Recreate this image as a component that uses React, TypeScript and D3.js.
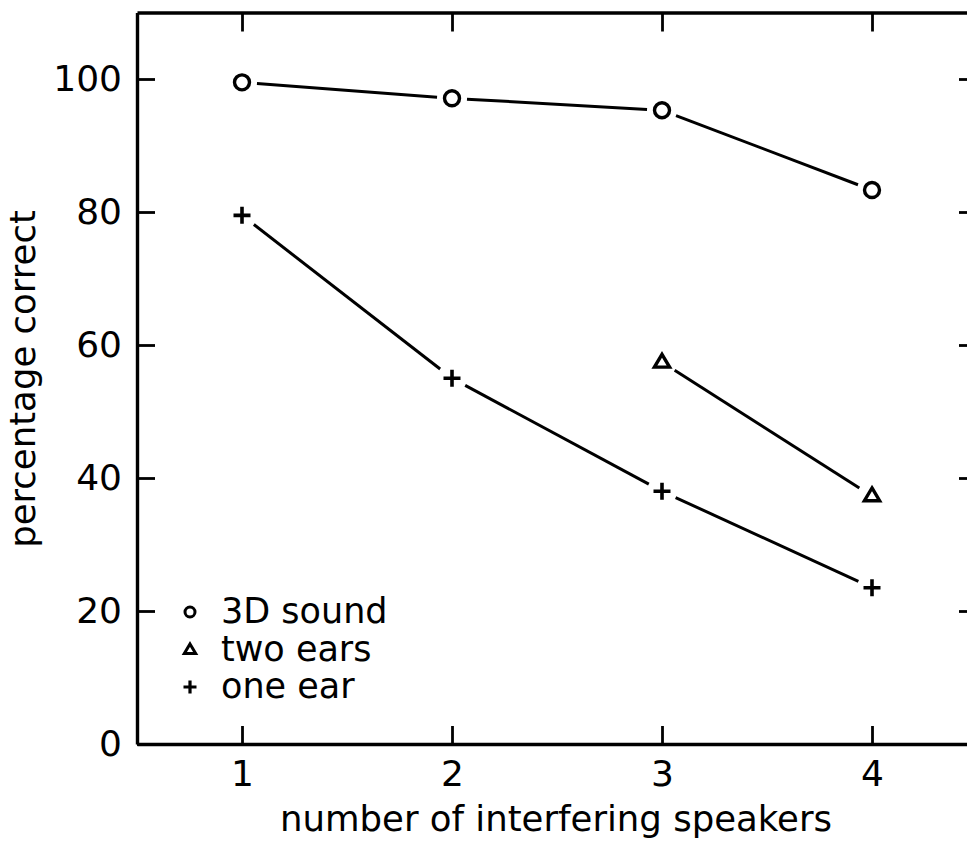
import * as d3 from "d3";
import { useEffect, useRef } from "react";

// speakers on the x axis
const speakers = [1, 2, 3, 4];

// percentage correct
const sound3d = [99.5, 97.1, 95.3, 83.3];
const twoEarsX = [3, 4];
const twoEars = [57.4, 37.3];
const oneEar = [79.5, 55.0, 38.0, 23.5];

const yTicks = [0, 20, 40, 60, 80, 100];
const legendLabels = ["3D sound", "two ears", "one ear"];

const W = 967;
const H = 843;
const FONT = "'DejaVu Sans', sans-serif";

const App = () => {
    const chartRef = useRef<SVGSVGElement>(null);

    useEffect(() => {
        const svg = d3.select(chartRef.current);
        svg.selectAll("*").remove();

        // шкалы
        const x = d3.scaleLinear().domain([0.5, 4.5]).range([137, 977]);
        const y = d3.scaleLinear().domain([0, 110]).range([744, 12.5]);

        const styleAxis = (g: any) => {
            g.select(".domain").attr("stroke", "#000").attr("stroke-width", 3.4);
            g.selectAll(".tick line").attr("stroke", "#000").attr("stroke-width", 2.8);
            g.selectAll(".tick text")
                .attr("fill", "#000")
                .style("font-family", FONT)
                .style("font-size", "36px");
        };

        // оси
        svg.append("g")
            .attr("transform", `translate(${x(0.5)},0)`)
            .call(d3.axisLeft(y).tickValues(yTicks).tickSize(-18).tickSizeOuter(0).tickPadding(15))
            .call(styleAxis);

        svg.append("g")
            .attr("transform", `translate(${x(4.5)},0)`)
            .call(d3.axisRight(y).tickValues(yTicks).tickSize(-18).tickSizeOuter(0).tickFormat(() => ""))
            .call(styleAxis);

        svg.append("g")
            .attr("transform", `translate(0,${y(0)})`)
            .call(d3.axisBottom(x).tickValues(speakers).tickSize(-18).tickSizeOuter(0).tickPadding(16).tickFormat(d3.format("d")))
            .call(styleAxis);

        svg.append("g")
            .attr("transform", `translate(0,${y(110)})`)
            .call(d3.axisTop(x).tickValues(speakers).tickSize(-19).tickSizeOuter(0).tickFormat(() => ""))
            .call(styleAxis);

        // подписи осей
        svg.append("text")
            .attr("x", 556)
            .attr("y", 831)
            .attr("text-anchor", "middle")
            .style("font-family", FONT)
            .style("font-size", "35.5px")
            .text("number of interfering speakers");

        svg.append("text")
            .attr("transform", "translate(35,379) rotate(-90)")
            .attr("text-anchor", "middle")
            .style("font-family", FONT)
            .style("font-size", "35.5px")
            .text("percentage correct");

        // линии с разрывами у маркеров
        const gap = 15;
        const drawLine = (xs: number[], ys: number[]) => {
            for (let i = 0; i < xs.length - 1; i++) {
                const x1 = x(xs[i]), y1 = y(ys[i]);
                const x2 = x(xs[i + 1]), y2 = y(ys[i + 1]);
                const len = Math.hypot(x2 - x1, y2 - y1);
                const ux = (x2 - x1) / len, uy = (y2 - y1) / len;
                svg.append("line")
                    .attr("x1", x1 + ux * gap)
                    .attr("y1", y1 + uy * gap)
                    .attr("x2", x2 - ux * gap)
                    .attr("y2", y2 - uy * gap)
                    .attr("stroke", "#000")
                    .attr("stroke-width", 3);
            }
        };
        drawLine(speakers, sound3d);
        drawLine(twoEarsX, twoEars);
        drawLine(speakers, oneEar);

        // маркеры
        const circle = (cx: number, cy: number, r: number, sw: number) =>
            svg.append("circle")
                .attr("cx", cx).attr("cy", cy).attr("r", r)
                .attr("fill", "none").attr("stroke", "#000").attr("stroke-width", sw);
        const triangle = (cx: number, cy: number, s: number, sw: number) =>
            svg.append("path")
                .attr("d", `M${cx},${cy - s}L${cx + s * 0.95},${cy + s * 0.6}L${cx - s * 0.95},${cy + s * 0.6}Z`)
                .attr("fill", "none").attr("stroke", "#000").attr("stroke-width", sw)
                .attr("stroke-linejoin", "miter");
        const plus = (cx: number, cy: number, s: number, sw: number) =>
            svg.append("path")
                .attr("d", `M${cx - s},${cy}H${cx + s}M${cx},${cy - s}V${cy + s}`)
                .attr("fill", "none").attr("stroke", "#000").attr("stroke-width", sw);

        speakers.forEach((s, i) => circle(x(s), y(sound3d[i]), 7.5, 3.4));
        twoEarsX.forEach((s, i) => triangle(x(s), y(twoEars[i]), 8, 3.4));
        speakers.forEach((s, i) => plus(x(s), y(oneEar[i]), 8.5, 3.6));

        // легенда
        const legY = [623, 661, 698];
        circle(190, legY[0] - 11, 5, 3);
        triangle(190, legY[1] - 11, 6, 3);
        plus(190, legY[2] - 11, 6.5, 3.2);
        legendLabels.forEach((t, i) => {
            svg.append("text")
                .attr("x", 221)
                .attr("y", legY[i])
                .style("font-family", FONT)
                .style("font-size", "35px")
                .text(t);
        });
    }, []);

    return (
        <svg
            ref={chartRef}
            width={W}
            height={H}
            style={{ position: "absolute", left: 0, top: 0, background: "#fff" }}
        ></svg>
    );
};

export default App;
